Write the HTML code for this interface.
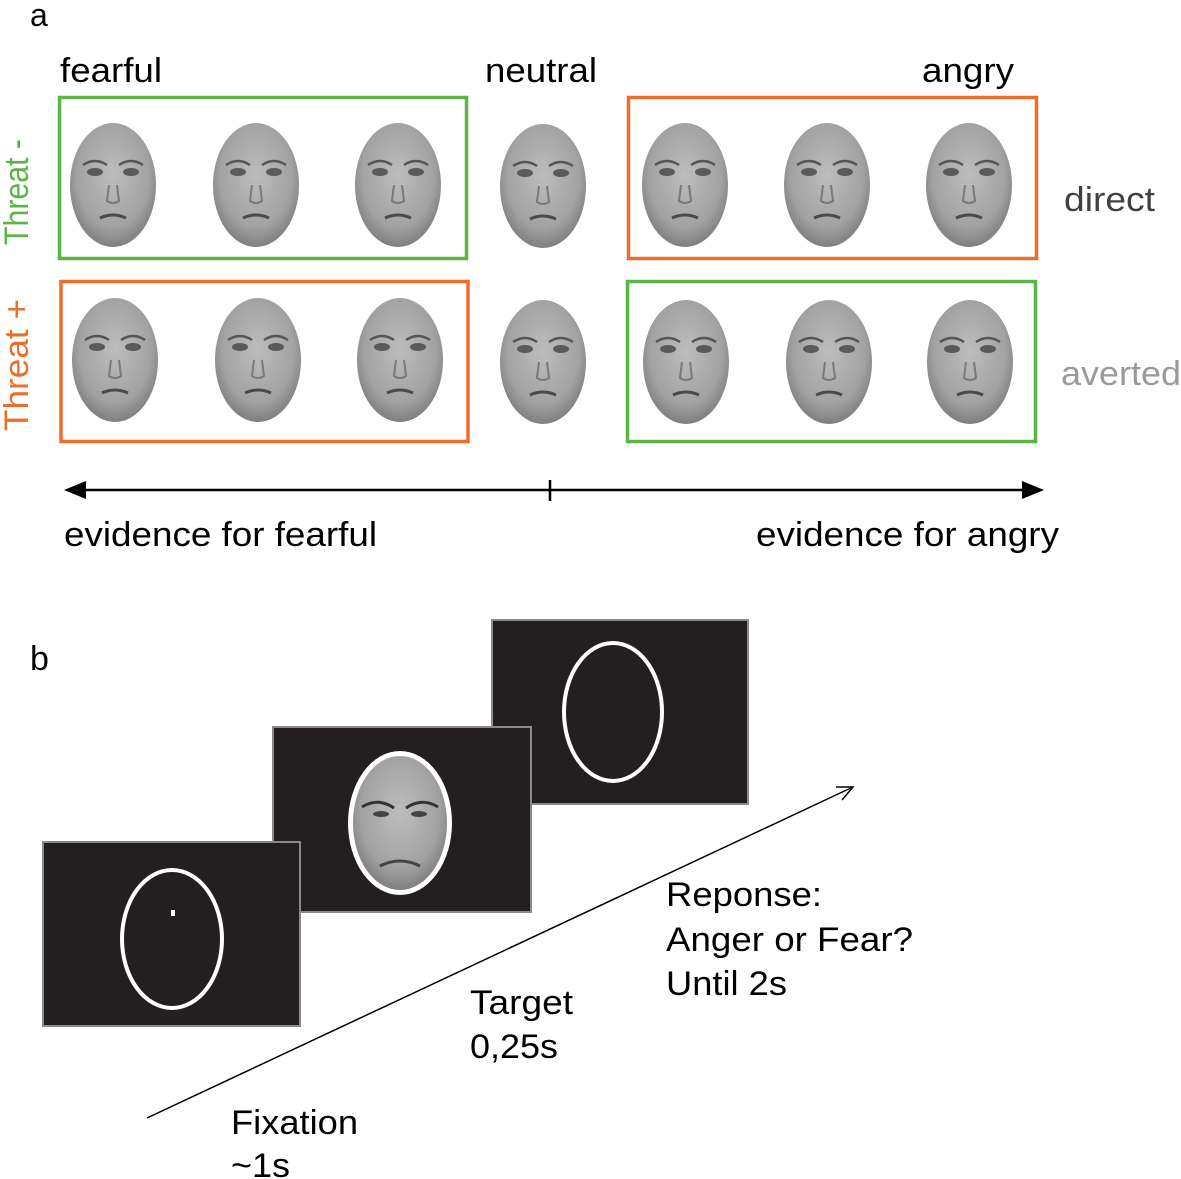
<!DOCTYPE html>
<html><head><style>
html,body{margin:0;padding:0;background:#fff;}
svg{display:block;font-family:"Liberation Sans",sans-serif;}
</style></head><body>
<svg width="1181" height="1179" viewBox="0 0 1181 1179" xmlns="http://www.w3.org/2000/svg">
<defs>
<radialGradient id="fg" cx="50%" cy="42%" r="60%">
<stop offset="0" stop-color="#bdbdbd"/><stop offset="0.7" stop-color="#a2a2a2"/><stop offset="1" stop-color="#7a7a7a"/>
</radialGradient>
<g id="face">
<ellipse cx="0" cy="0" rx="43" ry="62" fill="url(#fg)"/>
<path d="M-30 -20 Q-18 -28 -6 -20 M6 -20 Q18 -28 30 -20" stroke="#555" stroke-width="2.5" fill="none"/>
<ellipse cx="-18" cy="-13" rx="8" ry="4" fill="#5a5a5a"/>
<ellipse cx="18" cy="-13" rx="8" ry="4" fill="#5a5a5a"/>
<path d="M-4 0 L-6 16 Q0 20 6 16 L4 0" stroke="#7a7a7a" stroke-width="2" fill="none"/>
<path d="M-13 33 Q0 27 13 33" stroke="#4a4a4a" stroke-width="3" fill="none"/>
</g>
</defs>
<g font-size="34" lengthAdjust="spacingAndGlyphs">
<text x="30" y="26" font-size="32">a</text>
<text x="60" y="82" textLength="102" lengthAdjust="spacingAndGlyphs">fearful</text>
<text x="485" y="82" textLength="112" lengthAdjust="spacingAndGlyphs">neutral</text>
<text x="922" y="82" textLength="92" lengthAdjust="spacingAndGlyphs">angry</text>
<text transform="translate(28,245) rotate(-90)" fill="#5cb446" textLength="106" lengthAdjust="spacingAndGlyphs">Threat -</text>
<text transform="translate(28,431) rotate(-90)" fill="#eb6f2b" textLength="132" lengthAdjust="spacingAndGlyphs">Threat +</text>
<text x="1064" y="211" fill="#404040" textLength="91" lengthAdjust="spacingAndGlyphs">direct</text>
<text x="1061" y="385" fill="#9a9a9a" textLength="120" lengthAdjust="spacingAndGlyphs">averted</text>
</g>
<rect x="59.5" y="97.5" width="407" height="161" fill="none" stroke="#5cb446" stroke-width="3.5"/>
<rect x="628.5" y="97.5" width="408" height="161" fill="none" stroke="#eb6f2b" stroke-width="3.5"/>
<rect x="61" y="281.5" width="407" height="160" fill="none" stroke="#eb6f2b" stroke-width="3.5"/>
<rect x="627.5" y="281.5" width="408" height="160" fill="none" stroke="#5cb446" stroke-width="3.5"/>
<use href="#face" x="113" y="185"/><use href="#face" x="256" y="185"/><use href="#face" x="398" y="185"/>
<use href="#face" x="543" y="186"/>
<use href="#face" x="685" y="185"/><use href="#face" x="827" y="185"/><use href="#face" x="969" y="185"/>
<use href="#face" x="115" y="360"/><use href="#face" x="258" y="360"/><use href="#face" x="400" y="360"/>
<use href="#face" x="543" y="362"/>
<use href="#face" x="686" y="362"/><use href="#face" x="829" y="362"/><use href="#face" x="970" y="362"/>
<line x1="80" y1="490" x2="1025" y2="490" stroke="#000" stroke-width="2.5"/>
<polygon points="64,490 86,481 86,499" fill="#000"/>
<polygon points="1044,490 1022,481 1022,499" fill="#000"/>
<line x1="550" y1="480" x2="550" y2="501" stroke="#000" stroke-width="2.5"/>
<text x="64" y="546" font-size="34" textLength="313" lengthAdjust="spacingAndGlyphs">evidence for fearful</text>
<text x="756" y="546" font-size="34" textLength="303" lengthAdjust="spacingAndGlyphs">evidence for angry</text>
<text x="30" y="670" font-size="34">b</text>
<rect x="492" y="620" width="256" height="184" fill="#231f20" stroke="#8a8a8a" stroke-width="2"/>
<ellipse cx="613" cy="712" rx="49" ry="69" fill="none" stroke="#fff" stroke-width="4"/>
<rect x="273" y="727" width="258" height="185" fill="#231f20" stroke="#8a8a8a" stroke-width="2"/>
<ellipse cx="400" cy="823" rx="52" ry="72" fill="#fff"/>
<ellipse cx="400" cy="823" rx="47" ry="67" fill="url(#fg)"/>
<path d="M362 807 Q378 797 394 808 M406 808 Q422 797 438 807" stroke="#333" stroke-width="3" fill="none"/>
<ellipse cx="381" cy="814" rx="8" ry="3" fill="#444"/>
<ellipse cx="419" cy="814" rx="8" ry="3" fill="#444"/>
<path d="M380 866 Q400 856 420 866" stroke="#444" stroke-width="3" fill="none"/>
<rect x="43" y="842" width="257" height="184" fill="#231f20" stroke="#8a8a8a" stroke-width="2"/>
<ellipse cx="172" cy="939" rx="50" ry="69" fill="none" stroke="#fff" stroke-width="4"/>
<rect x="171" y="910" width="4" height="6" fill="#fff"/>
<line x1="147" y1="1118" x2="853" y2="787" stroke="#000" stroke-width="1.5"/>
<path d="M836 787 L853 787 L842 800" fill="none" stroke="#000" stroke-width="1.5"/>
<g font-size="34">
<text x="666" y="906" textLength="156" lengthAdjust="spacingAndGlyphs">Reponse:</text>
<text x="666" y="951" textLength="247" lengthAdjust="spacingAndGlyphs">Anger or Fear?</text>
<text x="666" y="995" textLength="121" lengthAdjust="spacingAndGlyphs">Until 2s</text>
<text x="470" y="1014" textLength="103" lengthAdjust="spacingAndGlyphs">Target</text>
<text x="470" y="1058" textLength="88" lengthAdjust="spacingAndGlyphs">0,25s</text>
<text x="231" y="1134" textLength="127" lengthAdjust="spacingAndGlyphs">Fixation</text>
<text x="231" y="1177" textLength="59" lengthAdjust="spacingAndGlyphs">~1s</text>
</g>
</svg>
</body></html>
